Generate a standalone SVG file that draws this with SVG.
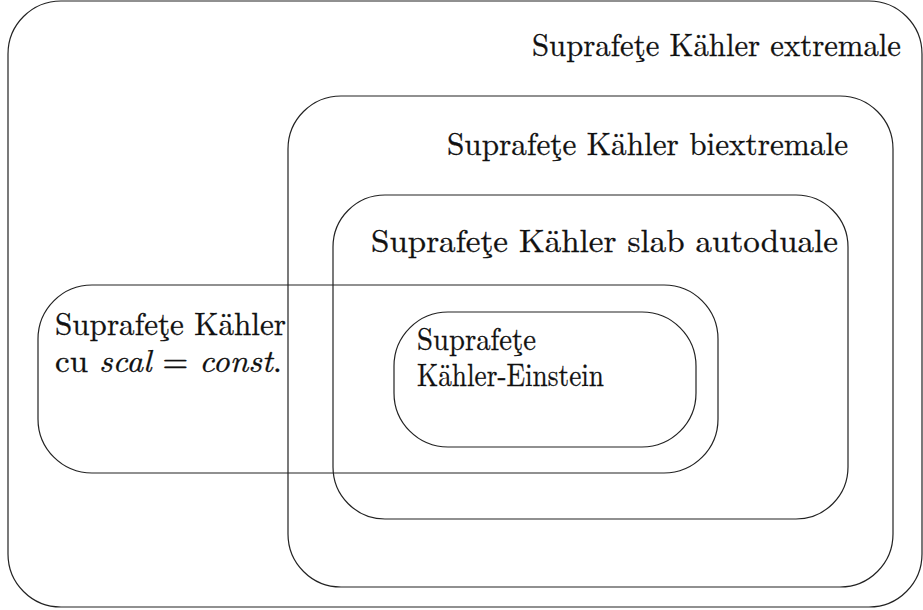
<svg xmlns="http://www.w3.org/2000/svg" width="923" height="610" viewBox="0 0 923 610">
<style>
.box{fill:none;stroke:#222;stroke-width:1.2}
.t{font-family:'Latin Modern Roman','CMU Serif','Noto Serif','Tinos','Nimbus Roman','FreeSerif','Liberation Serif','DejaVu Serif',serif;font-size:32px;fill:#111;stroke:#111;stroke-width:0.3}
.i{font-style:italic}
</style>
<rect width="923" height="610" fill="#fff"/>
<g id="extremale">
<rect class="box" x="8" y="1" width="914" height="606" rx="53" ry="53"/>
<text class="t" x="532" y="56" textLength="369" lengthAdjust="spacingAndGlyphs">Suprafeţe Kähler extremale</text>
</g>
<g id="biextremale">
<rect class="box" x="288" y="96" width="605" height="491" rx="53" ry="53"/>
<text class="t" x="447" y="155" textLength="401" lengthAdjust="spacingAndGlyphs">Suprafeţe Kähler biextremale</text>
</g>
<g id="slab-autoduale">
<rect class="box" x="333" y="195" width="515" height="324" rx="52" ry="52"/>
<text class="t" x="371" y="252" textLength="467" lengthAdjust="spacingAndGlyphs">Suprafeţe Kähler slab autoduale</text>
</g>
<g id="scal-const">
<rect class="box" x="38" y="285" width="680" height="188" rx="54" ry="54"/>
<text class="t" x="55" y="335" textLength="231" lengthAdjust="spacingAndGlyphs">Suprafeţe Kähler</text>
<text class="t" x="55" y="372" textLength="227" lengthAdjust="spacingAndGlyphs">cu <tspan class="i">scal</tspan> = <tspan class="i">const</tspan>.</text>
</g>
<g id="kahler-einstein">
<rect class="box" x="394" y="312" width="302" height="135" rx="54" ry="54"/>
<text class="t" x="417" y="350" textLength="119" lengthAdjust="spacingAndGlyphs">Suprafeţe</text>
<text class="t" x="417" y="386" textLength="187" lengthAdjust="spacingAndGlyphs">Kähler-Einstein</text>
</g>
<g id="connectors"></g>
</svg>
